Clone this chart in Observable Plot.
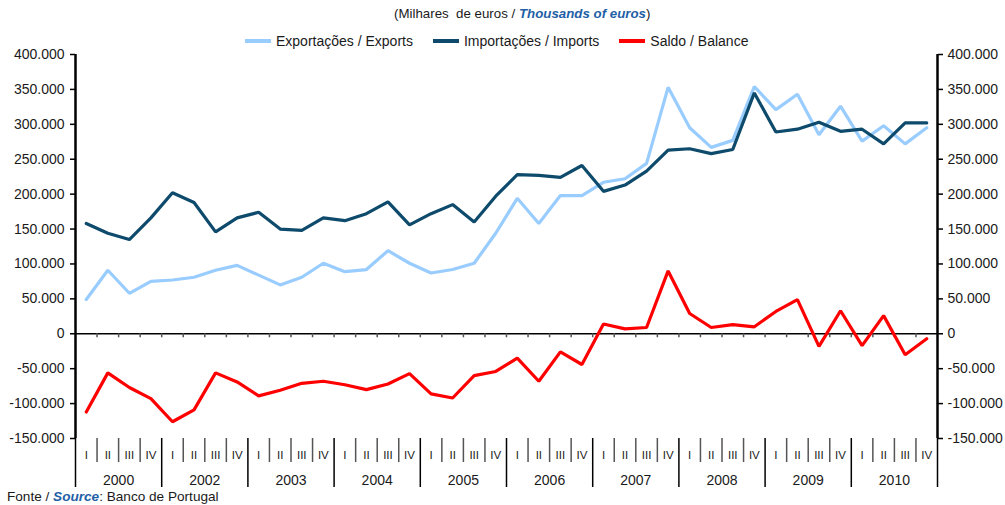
<!DOCTYPE html>
<html>
<head>
<meta charset="utf-8">
<script src="https://cdn.jsdelivr.net/npm/d3@7"></script>
<script src="https://cdn.jsdelivr.net/npm/@observablehq/plot@0.6"></script>
<style>
  html, body { margin: 0; padding: 0; background: #fff; }
  #wrap { position: relative; width: 1005px; height: 505px; font-family: "Liberation Sans", Arial, sans-serif; color: #1a1a1a; }
  #subtitle { position: absolute; top: 6px; left: 394px; font-size: 13.3px; line-height: 16px; white-space: nowrap; }
  .blue { color: #1f5fa6; font-weight: bold; font-style: italic; }
  #legend { position: absolute; top: 33px; left: 245px; height: 16px; display: flex; align-items: center; font-size: 14px; white-space: nowrap; }
  .item { display: flex; align-items: center; margin-right: 20px; }
  .sw { width: 26px; height: 4px; margin-right: 5px; }
  #chart { position: absolute; top: 44px; left: 0; }
  #caption { position: absolute; top: 489px; left: 7px; font-size: 13.6px; line-height: 16px; white-space: nowrap; }
</style>
</head>
<body>
<div id="wrap">
  <div id="subtitle">(Milhares&nbsp; de euros / <span class="blue">Thousands of euros</span>)</div>
  <div id="legend"></div>
  <div id="chart"></div>
  <div id="caption">Fonte / <span class="blue">Source</span>: Banco de Portugal</div>
</div>
<script>
// Quarter labels and year labels (as printed in the reference)
const quarters = ["I","II","III","IV"];
const years = ["2000","2002","2003","2004","2005","2006","2007","2008","2009","2010"];

// Values in thousands of euros
const exportsK = [49,91,58,75,77,81,91,98,84,70,81,101,89,92,119,101,87,92,101,144,194,158,198,198,217,222,244,353,295,267,277,354,321,343,285,326,276,298,272,295];
const importsK = [158,144,135,166,202,188,146,166,174,150,148,166,162,172,189,156,172,185,160,197,228,227,224,241,204,213,233,263,265,258,264,345,289,293,303,290,293,272,302,302];
const balanceK = [-112,-56,-77,-93,-126,-109,-56,-69,-89,-81,-71,-68,-73,-80,-72,-57,-86,-92,-60,-54,-35,-68,-26,-44,14,7,9,90,29,9,13,10,32,49,-18,33,-17,26,-30,-7];

const yTicks = [-150000,-100000,-50000,0,50000,100000,150000,200000,250000,300000,350000,400000];

const seriesInfo = [
  {name: "Exportações / Exports", color: "#99ccff", values: exportsK},
  {name: "Importações / Imports", color: "#0d4a6b", values: importsK},
  {name: "Saldo / Balance", color: "#ff0000", values: balanceK}
];

const n = years.length * quarters.length;
const qLabels = years.flatMap(() => quarters);
const qIdx = qLabels.map((q, i) => i);
const yMin = yTicks[0], yMax = yTicks[yTicks.length - 1];

const loc = d3.formatLocale({decimal: ",", thousands: ".", grouping: [3], currency: ["", ""], minus: "-"});
const fmt = loc.format(",");

// boundaries
const innerBounds = qIdx.slice(0, n - 1).map(i => i + 0.5);
const quarterSeps = innerBounds.filter(b => (b + 0.5) % 4 !== 0);
const yearSeps = years.map((y, k) => k * 4 - 0.5).concat([n - 0.5]);
const yearCenters = years.map((y, k) => ({label: y, x: k * 4 + 1.5}));

const marks = [
  // zero line with small ticks
  Plot.ruleY([0], {x1: -0.5, x2: n - 0.5, stroke: "#000", strokeWidth: 1.5}),
  Plot.ruleX(innerBounds, {x: d => d, y1: 0, y2: 0, insetBottom: -4, stroke: "#555", strokeWidth: 1.5}),
  // category separators below the plot
  Plot.ruleX(quarterSeps, {x: d => d, y1: yMin, y2: yMin, insetBottom: -24, stroke: "#555", strokeWidth: 1.5}),
  Plot.ruleX(yearSeps, {x: d => d, y1: yMin, y2: yMin, insetBottom: -49, stroke: "#000", strokeWidth: 1.5}),
  // axis lines
  Plot.ruleX([-0.5, n - 0.5], {x: d => d, y1: yMin, y2: yMax, stroke: "#000", strokeWidth: 2.5}),
  // axes
  Plot.axisY({anchor: "left", ticks: yTicks, tickFormat: fmt, tickSize: 5, tickPadding: 6, stroke: "#000", strokeWidth: 1.5, fill: "#1a1a1a", fontSize: 14}),
  Plot.axisY({anchor: "right", ticks: yTicks, tickFormat: fmt, tickSize: 5, tickPadding: 5, stroke: "#000", strokeWidth: 1.5, fill: "#1a1a1a", fontSize: 14}),
  // series
  ...seriesInfo.map(s => Plot.lineY(s.values, {x: (d, i) => i, y: d => d * 1000, stroke: s.color, strokeWidth: 3.2, strokeLinejoin: "miter"})),
  // quarter labels
  Plot.text(qLabels, {x: (d, i) => i, y: () => yMin, dy: 17, text: d => d, fontSize: 11.5, fill: "#1a1a1a"}),
  // year labels
  Plot.text(yearCenters, {x: "x", y: () => yMin, dy: 42, text: "label", fontSize: 14, fill: "#1a1a1a"})
];

const chart = Plot.plot({
  width: 1005,
  height: 450,
  marginTop: 10,
  marginBottom: 56,
  marginLeft: 75,
  marginRight: 68,
  x: {type: "linear", domain: [-0.5, n - 0.5], axis: null},
  y: {domain: [yMin, yMax], axis: null},
  style: {fontFamily: "'Liberation Sans', Arial, sans-serif", fontSize: "14px", overflow: "visible", background: "transparent"},
  marks
});
document.getElementById("chart").appendChild(chart);

// Legend
const leg = document.getElementById("legend");
for (const s of seriesInfo) {
  const it = document.createElement("div");
  it.className = "item";
  const sw = document.createElement("div");
  sw.className = "sw";
  sw.style.background = s.color;
  const tx = document.createElement("span");
  tx.textContent = s.name;
  it.appendChild(sw);
  it.appendChild(tx);
  leg.appendChild(it);
}
</script>
</body>
</html>
